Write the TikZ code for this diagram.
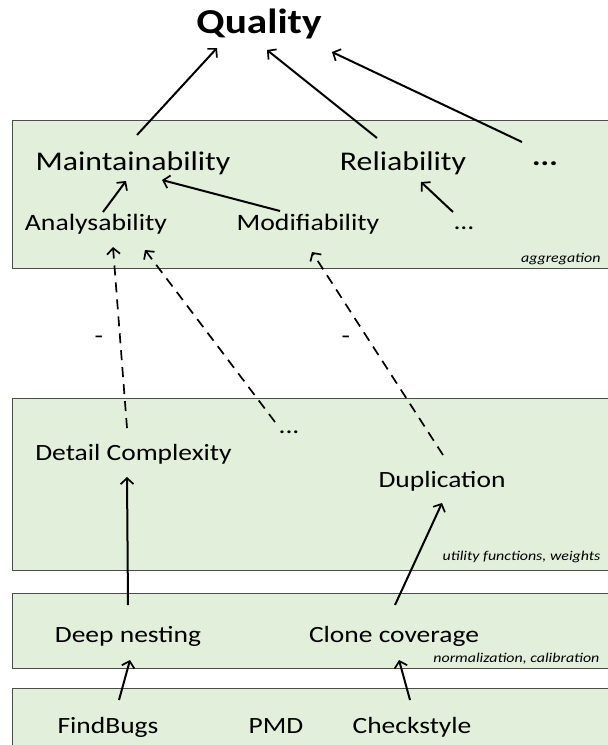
\documentclass[tikz,border=0pt]{standalone}
\usepackage{fontspec}
\setmainfont{Carlito}[FakeStretch=1.18]
\usetikzlibrary{arrows.meta,calc}

\definecolor{layerfill}{HTML}{E2EFDA}

\begin{document}
\begin{tikzpicture}[x=1pt,y=-1pt,
>={Straight Barb[length=6pt,width=13pt,line width=1.7pt]},
layer/.style = {draw=black!70, line width=0.9pt, fill=layerfill},
goal/.style = {text height=25pt, text depth=7pt, font=\fontsize{35}{40}\selectfont\bfseries},
charac/.style = {text height=19.5pt, text depth=5.4pt, font=\fontsize{27}{32}\selectfont},
subchar/.style = {text height=17pt, text depth=4.7pt, font=\fontsize{23.5}{28}\selectfont},
measure/.style = {text height=16.8pt, text depth=4.7pt, font=\fontsize{23.3}{28}\selectfont},
steplabel/.style = {font=\fontsize{13.5}{16}\selectfont\itshape, anchor=east},
up/.style = {->, line width=2pt},
impact/.style = {->, line width=1.7pt, dash pattern=on 10pt off 7pt},
sign/.style = {font=\fontsize{23.3}{28}\selectfont}]
\useasboundingbox (0,0) rectangle (608,745);
\clip (0,0) rectangle (608,745);

% layers
\draw[layer] (12,120) rectangle (620,268);
\draw[layer] (12,398) rectangle (620,570);
\draw[layer] (12,593) rectangle (620,668);
\draw[layer] (12,688) rectangle (620,760);

\node[steplabel] (agglbl) at (604,259) {aggregation};
\node[steplabel] (utillbl) at (604,557) {utility functions, weights};
\node[steplabel] (normlbl) at (603,659) {normalization, calibration};

% quality model
\node[goal] (quality) at (259,24) {Quality};
\node[charac] (maint) at (133,163) {Maintainability};
\node[charac] (rel) at (403,163) {Reliability};
\node[charac] (moreA) at (545,158) {\textbf{...}};
\node[subchar] (analys) at (96,224) {Analysability};
\node[subchar] (modif) at (308,224) {Modifiability};
\node[subchar] (moreB) at (464,223) {...};

% measures and findings
\node[measure] (detail) at (133.5,454) {Detail Complexity};
\node[measure] (moreC) at (289,427) {...};
\node[measure] (dupl) at (442,481) {Duplication};
\node[measure] (nesting) at (128,636) {Deep nesting};
\node[measure] (clone) at (394,636) {Clone coverage};
\node[measure] (findbugs) at (108,727) {FindBugs};
\node[measure] (pmd) at (276,727) {PMD};
\node[measure] (checkstyle) at (412,727) {Checkstyle};

\draw[up] ($(maint)+(4,-28)$) -- ($(quality)+(-42,24)$);
\draw[up] ($(rel)+(-26,-25)$) -- ($(quality)+(8,26)$);
\draw[up] ($(moreA)+(-23,-16)$) -- ($(quality)+(73,28)$);
\draw[up] ($(analys)+(7,-12)$) -- ($(maint)+(-7,18)$);
\draw[up] ($(modif)+(-28,-13)$) -- ($(maint)+(29,17)$);
\draw[up] ($(moreB)+(-11,-11)$) -- ($(rel)+(18,19)$);

\draw[impact] ($(detail)+(-6.5,-26)$) -- node[sign, pos=.49, left=13pt] {-} ($(analys)+(17,23)$);
\draw[impact] ($(moreC)+(-14,-5)$) -- ($(analys)+(49,26)$);
\draw[impact] ($(dupl)+(1,-26)$) -- node[sign, pos=.57, left=14pt] {-} ($(modif)+(4,28)$);

\draw[up] ($(nesting)+(0,-31)$) -- ($(detail)+(-6.5,23)$);
\draw[up] ($(clone)+(1,-31)$) -- ($(dupl)+(0,22)$);
\draw[up] ($(findbugs)+(11,-27)$) -- ($(nesting)+(2,24)$);
\draw[up] ($(checkstyle)+(-2,-27)$) -- ($(clone)+(5,24)$);
\end{tikzpicture}
\end{document}
